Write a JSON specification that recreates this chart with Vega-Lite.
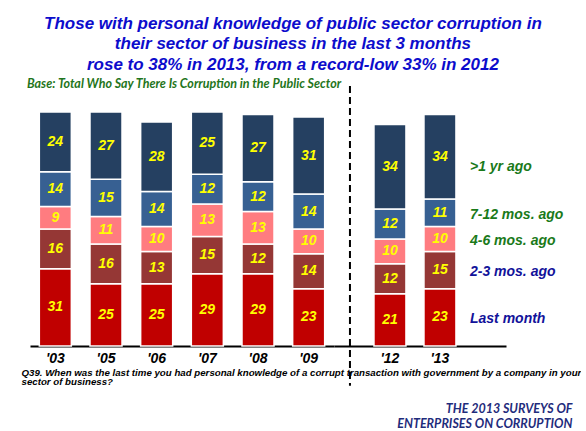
{
  "$schema": "https://vega.github.io/schema/vega-lite/v6.json",
  "padding": {"left": 21, "top": 14, "right": 0, "bottom": 0},
  "autosize": {"type": "pad"},
  "background": "white",
  "bounds": "flush",
  "spacing": 0,
  "title": {
    "text": ["Those with personal knowledge of public sector corruption in", "their sector of business in the last 3 months", "rose to 38% in 2013, from a record-low 33% in 2012"],
    "font": "Liberation Sans", "fontSize": 17, "fontStyle": "italic", "fontWeight": "bold",
    "color": "#0C0CCC", "lineHeight": 20.5, "anchor": "middle", "dx": -8, "offset": 4
  },
  "config": {"view": {"stroke": null}, "font": "Liberation Sans"},
  "datasets": {
    "survey": [
      {"year": "'03", "period": "Last month", "pct": 31},
      {"year": "'03", "period": "2-3 mos. ago", "pct": 16},
      {"year": "'03", "period": "4-6 mos. ago", "pct": 9},
      {"year": "'03", "period": "7-12 mos. ago", "pct": 14},
      {"year": "'03", "period": ">1 yr ago", "pct": 24},
      {"year": "'05", "period": "Last month", "pct": 25},
      {"year": "'05", "period": "2-3 mos. ago", "pct": 16},
      {"year": "'05", "period": "4-6 mos. ago", "pct": 11},
      {"year": "'05", "period": "7-12 mos. ago", "pct": 15},
      {"year": "'05", "period": ">1 yr ago", "pct": 27},
      {"year": "'06", "period": "Last month", "pct": 25},
      {"year": "'06", "period": "2-3 mos. ago", "pct": 13},
      {"year": "'06", "period": "4-6 mos. ago", "pct": 10},
      {"year": "'06", "period": "7-12 mos. ago", "pct": 14},
      {"year": "'06", "period": ">1 yr ago", "pct": 28},
      {"year": "'07", "period": "Last month", "pct": 29},
      {"year": "'07", "period": "2-3 mos. ago", "pct": 15},
      {"year": "'07", "period": "4-6 mos. ago", "pct": 13},
      {"year": "'07", "period": "7-12 mos. ago", "pct": 12},
      {"year": "'07", "period": ">1 yr ago", "pct": 25},
      {"year": "'08", "period": "Last month", "pct": 29},
      {"year": "'08", "period": "2-3 mos. ago", "pct": 12},
      {"year": "'08", "period": "4-6 mos. ago", "pct": 13},
      {"year": "'08", "period": "7-12 mos. ago", "pct": 12},
      {"year": "'08", "period": ">1 yr ago", "pct": 27},
      {"year": "'09", "period": "Last month", "pct": 23},
      {"year": "'09", "period": "2-3 mos. ago", "pct": 14},
      {"year": "'09", "period": "4-6 mos. ago", "pct": 10},
      {"year": "'09", "period": "7-12 mos. ago", "pct": 14},
      {"year": "'09", "period": ">1 yr ago", "pct": 31},
      {"year": "'12", "period": "Last month", "pct": 21},
      {"year": "'12", "period": "2-3 mos. ago", "pct": 12},
      {"year": "'12", "period": "4-6 mos. ago", "pct": 10},
      {"year": "'12", "period": "7-12 mos. ago", "pct": 12},
      {"year": "'12", "period": ">1 yr ago", "pct": 34},
      {"year": "'13", "period": "Last month", "pct": 23},
      {"year": "'13", "period": "2-3 mos. ago", "pct": 15},
      {"year": "'13", "period": "4-6 mos. ago", "pct": 10},
      {"year": "'13", "period": "7-12 mos. ago", "pct": 11},
      {"year": "'13", "period": ">1 yr ago", "pct": 34}
    ]
  },
  "hconcat": [
    {
      "width": 304,
      "height": 249,
      "title": {
        "text": "Base: Total Who Say There Is Corruption in the Public Sector",
        "anchor": "start", "font": "Lato", "fontSize": 12.5, "fontStyle": "italic", "fontWeight": "bold",
        "color": "#1F7520", "dx": 6, "offset": 7
      },
      "data": {"name": "survey"},
      "transform": [
        {"filter": {"field": "year", "oneOf": ["'03", "'05", "'06", "'07", "'08", "'09"]}},
        {"calculate": "indexof(['Last month', '2-3 mos. ago', '4-6 mos. ago', '7-12 mos. ago', '>1 yr ago'], datum.period)", "as": "rank"}
      ],
      "encoding": {
        "x": {
          "field": "year", "type": "nominal", "sort": null,
          "scale": {"paddingInner": 0.368, "paddingOuter": 0.184},
          "axis": {
            "title": ["Q39. When was the last time you had personal knowledge of a corrupt transaction with government by a company in your", "sector of business?"],
            "titleAnchor": "start", "titleAlign": "left", "titleX": -9, "titleY": 21, "titleBaseline": "top",
            "titleFont": "Liberation Sans", "titleFontSize": 9.7, "titleFontStyle": "italic", "titleFontWeight": "bold",
            "titleColor": "black", "titleLineHeight": 9.5,
            "labelAngle": 0, "labelFont": "Liberation Sans", "labelFontSize": 14, "labelFontStyle": "italic",
            "labelFontWeight": "bold", "labelColor": "black", "labelPadding": 5,
            "ticks": false, "domainColor": "black", "domainWidth": 2
          }
        },
        "y": {"field": "pct", "type": "quantitative", "stack": "zero", "scale": {"domain": [0, 100]}, "axis": null},
        "order": {"field": "rank", "type": "quantitative", "sort": "ascending"}
      },
      "layer": [
        {
          "mark": {"type": "bar", "stroke": "white", "strokeWidth": 1.5},
          "encoding": {
            "color": {
              "field": "period", "type": "nominal",
              "scale": {"domain": ["Last month", "2-3 mos. ago", "4-6 mos. ago", "7-12 mos. ago", ">1 yr ago"], "range": ["#C00000", "#953735", "#FF7C80", "#376092", "#254061"]},
              "legend": null
            }
          }
        },
        {
          "mark": {"type": "text", "font": "Liberation Sans", "fontSize": 14, "fontStyle": "italic", "fontWeight": "bold", "baseline": "middle"},
          "encoding": {
            "y": {"field": "pct", "type": "quantitative", "stack": "zero", "bandPosition": 0.5},
            "text": {"field": "pct", "type": "quantitative"},
            "color": {
              "field": "period", "type": "nominal",
              "scale": {"domain": ["Last month", "2-3 mos. ago", "4-6 mos. ago", "7-12 mos. ago", ">1 yr ago"], "range": ["#FFFF00", "#FFFF00", "#FFFF00", "#FFFF00", "#FFFF00"]},
              "legend": null
            }
          }
        }
      ],
      "resolve": {"scale": {"color": "independent"}}
    },
    {
      "width": 172,
      "height": 249,
      "encoding": {
        "x": {
          "field": "year", "type": "nominal", "sort": null,
          "scale": {"domain": ["'12", "'13"], "paddingInner": 0.36, "paddingOuter": 0.9, "align": 0.444},
          "axis": {
            "title": ["THE 2013 SURVEYS OF", "ENTERPRISES ON CORRUPTION"],
            "titleAnchor": "start", "titleAlign": "right", "titleX": 238, "titleY": 56, "titleBaseline": "top",
            "titleFont": "Lato", "titleFontSize": 12.5, "titleFontStyle": "italic", "titleFontWeight": "bold",
            "titleColor": "#1F2C7C", "titleLineHeight": 15,
            "labelAngle": 0, "labelFont": "Liberation Sans", "labelFontSize": 14, "labelFontStyle": "italic",
            "labelFontWeight": "bold", "labelColor": "black", "labelPadding": 5,
            "ticks": false, "domainColor": "black", "domainWidth": 2
          }
        }
      },
      "layer": [
        {
          "data": {"name": "survey"},
          "transform": [
            {"filter": {"field": "year", "oneOf": ["'12", "'13"]}},
            {"calculate": "indexof(['Last month', '2-3 mos. ago', '4-6 mos. ago', '7-12 mos. ago', '>1 yr ago'], datum.period)", "as": "rank"}
          ],
          "encoding": {
            "y": {"field": "pct", "type": "quantitative", "stack": "zero", "scale": {"domain": [0, 100]}, "axis": null},
            "order": {"field": "rank", "type": "quantitative", "sort": "ascending"}
          },
          "layer": [
            {
              "mark": {"type": "bar", "stroke": "white", "strokeWidth": 1.5},
              "encoding": {
                "color": {
                  "field": "period", "type": "nominal",
                  "scale": {"domain": ["Last month", "2-3 mos. ago", "4-6 mos. ago", "7-12 mos. ago", ">1 yr ago"], "range": ["#C00000", "#953735", "#FF7C80", "#376092", "#254061"]},
                  "legend": null
                }
              }
            },
            {
              "mark": {"type": "text", "font": "Liberation Sans", "fontSize": 14, "fontStyle": "italic", "fontWeight": "bold", "baseline": "middle"},
              "encoding": {
                "y": {"field": "pct", "type": "quantitative", "stack": "zero", "bandPosition": 0.5},
                "text": {"field": "pct", "type": "quantitative"},
                "color": {
                  "field": "period", "type": "nominal",
                  "scale": {"domain": ["Last month", "2-3 mos. ago", "4-6 mos. ago", "7-12 mos. ago", ">1 yr ago"], "range": ["#FFFF00", "#FFFF00", "#FFFF00", "#FFFF00", "#FFFF00"]},
                  "legend": null
                }
              }
            },
            {
              "transform": [{"filter": {"field": "year", "equal": "'13"}}],
              "mark": {"type": "text", "font": "Liberation Sans", "fontSize": 14, "fontStyle": "italic", "fontWeight": "bold", "baseline": "middle", "align": "left", "dx": 30, "dy": 2},
              "encoding": {
                "y": {"field": "pct", "type": "quantitative", "stack": "zero", "bandPosition": 0.5},
                "text": {"condition": {"test": "datum.period !== '>1 yr ago'", "field": "period"}, "value": ""},
                "color": {
                  "field": "period", "type": "nominal",
                  "scale": {"domain": ["Last month", "2-3 mos. ago", "4-6 mos. ago", "7-12 mos. ago", ">1 yr ago"], "range": ["#12129A", "#12129A", "#1A7A1A", "#1A7A1A", "#1A7A1A"]},
                  "legend": null
                }
              }
            },
            {
              "transform": [{"filter": {"field": "year", "equal": "'13"}}],
              "mark": {"type": "text", "font": "Liberation Sans", "fontSize": 14, "fontStyle": "italic", "fontWeight": "bold", "baseline": "middle", "align": "left", "dx": 30, "dy": 10},
              "encoding": {
                "y": {"field": "pct", "type": "quantitative", "stack": "zero", "bandPosition": 0.5},
                "text": {"condition": {"test": "datum.period === '>1 yr ago'", "field": "period"}, "value": ""},
                "color": {
                  "field": "period", "type": "nominal",
                  "scale": {"domain": ["Last month", "2-3 mos. ago", "4-6 mos. ago", "7-12 mos. ago", ">1 yr ago"], "range": ["#12129A", "#12129A", "#1A7A1A", "#1A7A1A", "#1A7A1A"]},
                  "legend": null
                }
              }
            }
          ],
          "resolve": {"scale": {"color": "independent"}}
        },
        {
          "data": {"values": [{"marker": "divider"}]},
          "mark": {"type": "rule", "strokeDash": [7, 4], "strokeWidth": 2, "color": "black", "xOffset": -40},
          "encoding": {
            "x": {"datum": "'12", "type": "nominal"},
            "y": {"datum": 104.4, "type": "quantitative"},
            "y2": {"datum": -16}
          }
        }
      ]
    }
  ]
}
